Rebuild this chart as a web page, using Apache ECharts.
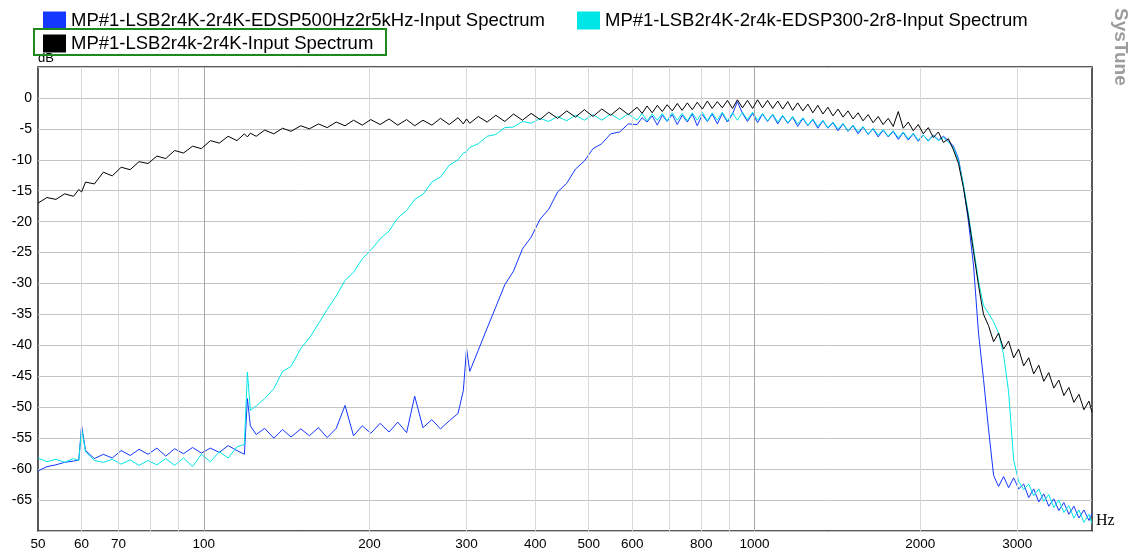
<!DOCTYPE html>
<html><head><meta charset="utf-8">
<script src="https://cdn.jsdelivr.net/npm/echarts@6/dist/echarts.min.js"></script>
<style>html,body{margin:0;padding:0;background:#fff}#c{width:1134px;height:551px}</style>
</head><body><div id="c"></div>
<script>
// Frequencies (Hz) shared by all three spectra
const freqs = [
  50, 51.9, 53.9, 55.9, 58, 59.3, 60, 61, 63.3, 65.7,
  68.2, 70.8, 73.5, 76.3, 79.2, 82.2, 85.3, 88.5, 91.9, 95.4,
  99, 102.8, 106.7, 110.7, 114.9, 118.5, 120, 121.5, 124.5, 129,
  134, 139, 144, 150, 155.5, 161.5, 167.5, 174, 180.5, 187,
  194, 201, 209, 217, 225, 233.5, 241.5, 250, 259.5, 269,
  279, 289.5, 296, 300, 304, 315, 327, 339, 352, 365,
  379, 393, 408, 423, 439, 456, 473, 491, 509, 528,
  548, 569, 590, 612, 625, 638, 652, 666, 680, 694,
  709, 724, 739, 755, 771, 787, 804, 821, 838, 856,
  874, 893, 912, 931, 951, 971, 992, 1013, 1034, 1056,
  1079, 1102, 1125, 1149, 1173, 1198, 1224, 1250, 1276, 1303,
  1331, 1359, 1388, 1418, 1448, 1478, 1510, 1542, 1574, 1608,
  1642, 1677, 1712, 1749, 1786, 1824, 1862, 1902, 1942, 1983,
  2025, 2068, 2112, 2157, 2203, 2249, 2297, 2346, 2395, 2446,
  2498, 2551, 2605, 2660, 2717, 2774, 2833, 2893, 2955, 3017,
  3081, 3147, 3213, 3282, 3351, 3422, 3495, 3569, 3645, 3722,
  3801, 3882, 3964, 4048, 4100
];
// MP#1-LSB2r4K-2r4K-EDSP500Hz2r5kHz (blue), dB
const blueDb = [
  -60.3, -59.6, -59.3, -58.9, -58.7, -58.5, -53.0, -57.0, -58.3, -57.6,
  -58.2, -57.0, -57.8, -56.8, -57.6, -56.6, -57.9, -56.7, -57.5, -56.5,
  -57.4, -56.6, -57.3, -56.2, -57.0, -57.6, -48.6, -53.0, -54.4, -53.4,
  -55.0, -53.6, -54.8, -53.5, -54.6, -53.3, -54.9, -53.4, -49.7, -54.6,
  -53.0, -54.2, -52.6, -54.0, -52.4, -54.1, -48.2, -53.3, -52.0, -53.5,
  -52.2, -51.0, -47.3, -40.5, -44.2, -40.8, -37.2, -33.8, -30.2, -28.0,
  -24.4, -22.5, -19.6, -18.0, -15.2, -13.8, -11.5, -10.2, -8.2, -7.4,
  -5.8, -5.5, -4.2, -4.3, -3.2, -3.9, -2.9, -4.4, -2.8, -3.8,
  -2.7, -4.3, -2.8, -3.9, -2.6, -4.5, -2.7, -3.8, -2.6, -4.2,
  -2.5, -3.9, -2.6, -0.6, -2.5, -3.8, -2.5, -4.0, -2.6, -3.8,
  -2.7, -4.2, -2.9, -4.1, -3.1, -4.6, -3.3, -4.5, -3.5, -4.9,
  -3.7, -4.9, -4.0, -5.3, -4.2, -5.4, -4.5, -5.8, -4.7, -5.9,
  -5.0, -6.3, -5.2, -6.3, -5.4, -6.7, -5.6, -6.8, -5.8, -7.0,
  -6.0, -6.9, -6.0, -6.8, -6.2, -6.9, -7.8, -9.8, -14.2, -20.0,
  -27.0, -38.0, -45.5, -53.5, -61.0, -62.8, -61.2, -63.0, -61.4, -63.2,
  -62.4, -64.6, -63.2, -65.3, -64.0, -66.0, -64.8, -66.7, -65.4, -67.3,
  -66.0, -67.9, -66.6, -68.3, -67.2
];
// MP#1-LSB2r4K-2r4k-EDSP300-2r8 (cyan), dB
const cyanDb = [
  -58.2, -58.8, -58.4, -58.9, -58.3, -58.6, -53.5, -57.2, -58.6, -58.9,
  -58.4, -59.2, -58.5, -59.4, -58.6, -59.3, -58.3, -59.4, -58.2, -59.6,
  -57.6, -58.8, -57.2, -58.2, -56.4, -56.0, -44.3, -50.5, -49.8, -48.6,
  -47.0, -44.2, -43.4, -40.5, -38.8, -36.5, -34.2, -32.0, -29.5, -28.2,
  -26.0, -24.6, -22.8, -21.5, -19.4, -18.2, -16.4, -15.6, -13.6, -12.8,
  -10.9, -10.0, -8.9, -8.7, -8.0, -7.4, -6.2, -5.9, -4.8, -4.7,
  -3.8, -4.1, -3.3, -3.8, -3.0, -3.7, -2.8, -3.6, -2.7, -3.6,
  -2.6, -3.5, -2.6, -3.6, -2.5, -3.7, -2.6, -3.6, -2.5, -3.7,
  -2.4, -3.6, -2.5, -3.7, -2.4, -3.6, -2.3, -3.7, -2.4, -3.6,
  -2.3, -3.7, -2.4, -3.6, -2.3, -3.5, -2.3, -3.6, -2.5, -3.7,
  -2.6, -3.9, -2.8, -4.0, -3.0, -4.2, -3.2, -4.4, -3.4, -4.6,
  -3.6, -4.8, -3.9, -5.0, -4.1, -5.3, -4.4, -5.5, -4.6, -5.8,
  -4.9, -6.0, -5.1, -6.2, -5.3, -6.4, -5.5, -6.6, -5.7, -6.8,
  -6.0, -7.0, -6.1, -6.9, -6.4, -7.2, -8.0, -10.2, -14.0, -18.8,
  -24.2, -29.6, -33.6, -34.8, -36.2, -38.0, -41.5, -47.5, -58.5, -62.0,
  -63.3, -62.4, -64.3, -63.2, -65.2, -64.1, -66.2, -65.0, -67.0, -65.9,
  -67.9, -66.6, -68.6, -67.3, -68.8
];
// MP#1-LSB2r4k-2r4K (black), dB
const blackDb = [
  -17.0, -16.1, -16.4, -15.5, -15.9, -14.8, -15.2, -13.6, -13.9, -12.0,
  -12.6, -11.2, -11.6, -10.3, -10.6, -9.4, -9.8, -8.5, -8.9, -7.8,
  -8.2, -6.9, -7.3, -6.2, -6.9, -5.8, -6.3, -5.7, -6.2, -5.2,
  -5.8, -4.9, -5.4, -4.5, -5.0, -4.2, -4.8, -3.9, -4.5, -3.6,
  -4.4, -3.5, -4.3, -3.4, -4.4, -3.5, -4.5, -3.6, -4.4, -3.3,
  -4.3, -3.2, -4.2, -3.4, -4.1, -3.0, -3.9, -2.8, -3.8, -2.6,
  -3.6, -2.5, -3.5, -2.3, -3.3, -2.1, -3.1, -1.9, -3.0, -1.8,
  -2.8, -1.6, -2.7, -1.5, -2.5, -1.3, -2.4, -1.2, -2.2, -1.1,
  -2.1, -0.9, -2.0, -0.8, -1.9, -0.7, -1.8, -0.5, -1.7, -0.6,
  -1.6, -0.4, -1.7, -0.3, -1.6, -0.4, -1.7, -0.3, -1.6, -0.4,
  -1.7, -0.5, -1.8, -0.6, -2.0, -0.8, -2.1, -1.0, -2.4, -1.2,
  -2.6, -1.5, -2.9, -1.8, -3.1, -2.1, -3.4, -2.4, -3.7, -2.7,
  -4.0, -3.0, -4.3, -3.3, -4.6, -2.2, -4.9, -3.9, -5.3, -4.3,
  -5.8, -4.8, -6.4, -5.5, -7.2, -6.6, -8.4, -10.6, -14.5, -19.3,
  -24.8, -30.3, -35.0, -36.8, -39.4, -38.0, -40.6, -39.3, -42.0, -40.6,
  -43.3, -42.0, -44.6, -43.2, -45.8, -44.4, -46.9, -45.6, -48.1, -46.8,
  -49.2, -47.9, -50.4, -49.0, -50.8
];
const seriesNames = [
  'MP#1-LSB2r4K-2r4K-EDSP500Hz2r5kHz-Input Spectrum',
  'MP#1-LSB2r4K-2r4k-EDSP300-2r8-Input Spectrum',
  'MP#1-LSB2r4k-2r4K-Input Spectrum'
];
const seriesColors = ['#1438ff', '#00e6e6', '#000000'];
const xTickLabels = [50, 60, 70, 100, 200, 300, 400, 500, 600, 800, 1000, 2000, 3000];
const xGridMinor = [60, 70, 80, 90, 200, 300, 400, 500, 600, 700, 800, 900, 2000, 3000];
const xGridMajor = [100, 1000];

const FONT = 'Liberation Sans';
const pairs = v => freqs.map((f, i) => [f, v[i]]);

const chart = echarts.init(document.getElementById('c'), null, {renderer: 'canvas'});
const lineSeries = [blueDb, cyanDb, blackDb].map((v, i) => ({
  name: seriesNames[i],
  type: 'line',
  data: pairs(v),
  showSymbol: false,
  symbol: 'none',
  z: 3 + i,
  lineStyle: {color: seriesColors[i], width: 1},
  itemStyle: {color: seriesColors[i]}
}));

chart.setOption({
  animation: false,
  backgroundColor: '#ffffff',
  grid: {left: 38, right: 42, top: 67, bottom: 20, show: true, borderColor: '#222', borderWidth: 1.5, backgroundColor: '#fff'},
  legend: [
    {data: [seriesNames[0], seriesNames[1]], left: 38, top: 6, itemWidth: 23, itemHeight: 18, itemGap: 32,
     icon: 'rect', textStyle: {fontFamily: FONT, fontSize: 18.5, color: '#000'}},
    {data: [seriesNames[2]], left: 38, top: 29, itemWidth: 23, itemHeight: 18,
     icon: 'rect', textStyle: {fontFamily: FONT, fontSize: 18.5, color: '#000'}}
  ],
  xAxis: {
    type: 'log', logBase: 10, min: 50, max: 4100,
    axisLine: {show: false}, axisTick: {show: false}, splitLine: {show: false},
    axisLabel: {customValues: xTickLabels, formatter: v => String(Math.round(v)), fontFamily: FONT, fontSize: 13.5, color: '#000', margin: 6, showMinLabel: true, showMaxLabel: true}
  },
  yAxis: {
    type: 'value', min: -70, max: 5, interval: 5,
    name: 'dB', nameLocation: 'end', nameGap: 2,
    nameTextStyle: {fontFamily: FONT, fontSize: 13, color: '#000', align: 'left', verticalAlign: 'bottom'},
    axisLine: {show: false}, axisTick: {show: false},
    splitLine: {show: true, lineStyle: {color: '#c4c4c4', width: 1}},
    axisLabel: {fontFamily: FONT, fontSize: 14, color: '#000', margin: 6,
      formatter: v => (v > 0 || v < -65) ? '' : String(v)}
  },
  graphic: [
    {type: 'rect', shape: {x: 34, y: 29, width: 352, height: 26}, style: {fill: 'none', stroke: '#1e8a1e', lineWidth: 2}, z: 100},
    {type: 'text', x: 1096, y: 513, style: {text: 'Hz', font: '16px "Liberation Serif"', fill: '#000', textAlign: 'left', textVerticalAlign: 'top'}},
    {type: 'text', x: 1130, y: 8, rotation: -Math.PI / 2,
     style: {text: 'SysTune', font: 'bold 19px "Liberation Sans"', fill: '#9c9c9c', textAlign: 'left', textVerticalAlign: 'top'}}
  ],
  series: [
    {type: 'line', data: [], silent: true, z: 1,
     markLine: {silent: true, symbol: 'none', animation: false, label: {show: false},
       lineStyle: {color: '#d8d8d8', width: 1, type: 'solid'},
       data: xGridMinor.map(f => ({xAxis: f}))}},
    {type: 'line', data: [], silent: true, z: 2,
     markLine: {silent: true, symbol: 'none', animation: false, label: {show: false},
       lineStyle: {color: '#a8a8a8', width: 1, type: 'solid'},
       data: xGridMajor.map(f => ({xAxis: f}))}},
    ...lineSeries
  ]
});
</script>
</body></html>
